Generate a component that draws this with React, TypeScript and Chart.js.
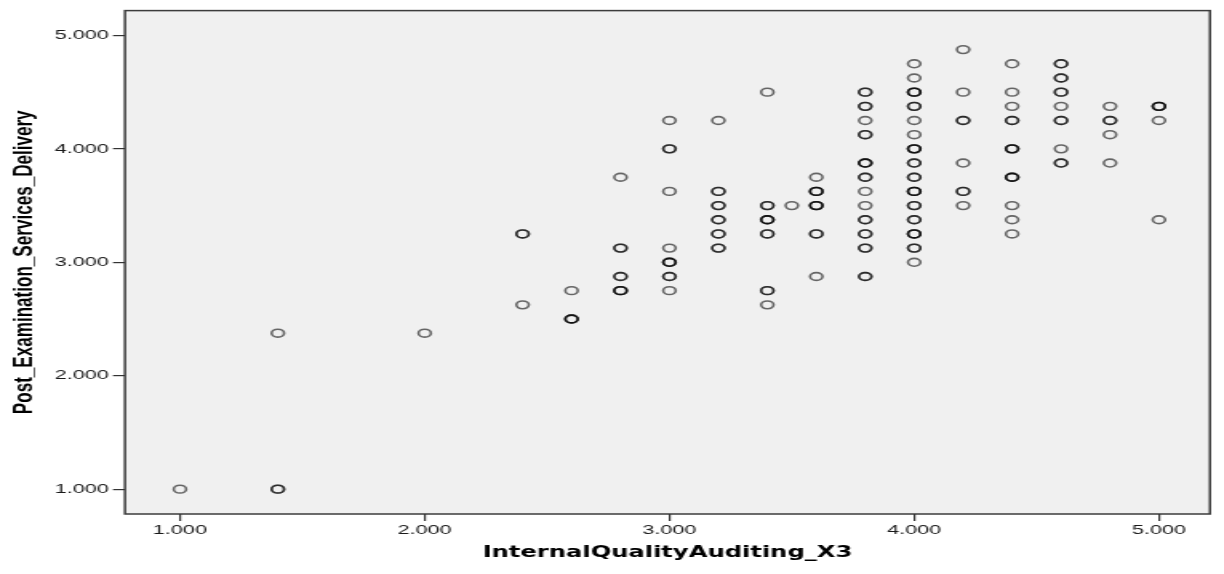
import React, { useEffect, useRef } from "react";
import { Chart, registerables } from "chart.js";

Chart.register(...registerables);

// Scores on the x axis (one column of observations per level)
const auditLevels = [1.0, 1.4, 2.0, 2.4, 2.6, 2.8, 3.0, 3.2, 3.4, 3.5, 3.6, 3.8, 4.0, 4.2, 4.4, 4.6, 4.8, 5.0];

// Delivery scores observed at each audit level
const deliveryByLevel = [
  [1.0],
  [2.375, 1.0],
  [2.375],
  [3.25, 2.625],
  [2.75, 2.5],
  [3.75, 3.125, 2.875, 2.75],
  [4.25, 4.0, 3.625, 3.125, 3.0, 2.875, 2.75],
  [4.25, 3.625, 3.5, 3.375, 3.25, 3.125],
  [4.5, 3.5, 3.375, 3.25, 2.75, 2.625],
  [3.5],
  [3.75, 3.625, 3.5, 3.25, 2.875],
  [4.5, 4.375, 4.25, 4.125, 3.875, 3.75, 3.625, 3.5, 3.375, 3.25, 3.125, 2.875],
  [4.75, 4.625, 4.5, 4.375, 4.25, 4.125, 4.0, 3.875, 3.75, 3.625, 3.5, 3.375, 3.25, 3.125, 3.0],
  [4.875, 4.5, 4.25, 3.875, 3.625, 3.5],
  [4.75, 4.5, 4.375, 4.25, 4.0, 3.75, 3.5, 3.375, 3.25],
  [4.75, 4.625, 4.5, 4.375, 4.25, 4.0, 3.875],
  [4.375, 4.25, 4.125, 3.875],
  [4.375, 4.25, 3.375],
];

// Number of respondents sharing each (audit, delivery) pair
const casesByLevel = [
  [1],
  [1, 2],
  [1],
  [2, 1],
  [1, 3],
  [1, 2, 2, 3],
  [1, 2, 1, 1, 3, 2, 1],
  [1, 2, 2, 2, 2, 2],
  [1, 2, 3, 2, 2, 1],
  [1],
  [1, 3, 3, 2, 1],
  [2, 2, 1, 2, 3, 2, 1, 1, 2, 2, 2, 2],
  [1, 1, 3, 2, 1, 1, 3, 2, 2, 3, 2, 2, 3, 2, 1],
  [1, 1, 2, 1, 2, 1],
  [1, 1, 1, 2, 3, 3, 1, 1, 1],
  [2, 2, 2, 1, 2, 1, 2],
  [1, 2, 1, 1],
  [3, 1, 1],
];

const xTickValues = [1, 2, 3, 4, 5];
const yTickValues = [1, 2, 3, 4, 5];
const xAxisTitle = "InternalQualityAuditing_X3";
const yAxisTitle = "Post_Examination_Services_Delivery";

const PAGE_W = 1224;
const PAGE_H = 574;
// The plot is rendered on a narrower canvas and widened on screen.
const STRETCH = 1.6;
const CANVAS_W = Math.round(PAGE_W / STRETCH);

function fitFontSize(text: string, family: string, weight: string, target: number) {
  const ctx = document.createElement("canvas").getContext("2d")!;
  ctx.font = `${weight} 20px ${family}`;
  const w = ctx.measureText(text).width || 1;
  return (20 * target) / w;
}

const plotFrame = {
  id: "plotFrame",
  beforeDraw(chart: any) {
    const { ctx, chartArea } = chart;
    const { left, top, right, bottom } = chartArea;
    ctx.save();
    ctx.fillStyle = "#ffffff";
    ctx.fillRect(0, 0, chart.width, chart.height);
    ctx.fillStyle = "#f0f0f0";
    ctx.fillRect(left, top, right - left, bottom - top);
    ctx.strokeStyle = "#3c3c3c";
    ctx.lineWidth = 1.5;
    ctx.strokeRect(left, top, right - left, bottom - top);
    ctx.restore();
  },
};

export default function App() {
  const canvasRef = useRef<HTMLCanvasElement | null>(null);

  useEffect(() => {
    const canvas = canvasRef.current;
    if (!canvas) return;

    const points: { x: number; y: number }[] = [];
    auditLevels.forEach((x, i) => {
      deliveryByLevel[i].forEach((y, j) => {
        const n = casesByLevel[i][j];
        for (let k = 0; k < n; k++) points.push({ x, y });
      });
    });

    const yTitleFamily = '"Liberation Sans Narrow", "Liberation Sans", Arial, sans-serif';
    const yTitleSize = fitFontSize(yAxisTitle, yTitleFamily, "bold", 304);
    const xTitleFamily = '"DejaVu Sans", Verdana, sans-serif';
    const xTitleSize = fitFontSize(xAxisTitle, xTitleFamily, "bold", 370 / STRETCH);
    const tickFont = { family: '"Liberation Sans", Arial, sans-serif', size: 13.5 };

    const chart = new Chart(canvas, {
      type: "scatter",
      data: {
        datasets: [
          {
            data: points,
            pointStyle: "circle",
            pointRadius: 3.9,
            pointHoverRadius: 3.9,
            pointBorderWidth: 1.6,
            borderColor: "rgba(0,0,0,0.58)",
            backgroundColor: "rgba(0,0,0,0)",
            showLine: false,
          },
        ],
      },
      options: {
        responsive: false,
        devicePixelRatio: 1,
        animation: false,
        events: [],
        layout: { padding: { top: 8, right: CANVAS_W - 1210 / STRETCH, bottom: 0, left: 0 } },
        plugins: {
          legend: { display: false },
          tooltip: { enabled: false },
        },
        scales: {
          x: {
            type: "linear",
            min: 0.7753,
            max: 5.2084,
            afterBuildTicks: (axis: any) => {
              axis.ticks = xTickValues.map((v) => ({ value: v }));
            },
            afterFit: (axis: any) => {
              axis.height = PAGE_H - 514;
            },
            border: { display: false },
            grid: {
              drawOnChartArea: false,
              drawTicks: true,
              tickLength: 7,
              color: "#333333",
              lineWidth: 1.2,
            },
            ticks: {
              autoSkip: false,
              maxRotation: 0,
              padding: 1,
              color: "#1a1a1a",
              font: tickFont,
              callback: (v: any) => Number(v).toFixed(3),
            },
            title: {
              display: true,
              text: xAxisTitle,
              color: "#000000",
              font: { family: xTitleFamily, size: xTitleSize, weight: "bold", lineHeight: 1 },
              padding: { top: 0, bottom: 21 - xTitleSize / 2 },
            },
          },
          y: {
            type: "linear",
            min: 0.781,
            max: 5.219,
            afterBuildTicks: (axis: any) => {
              axis.ticks = yTickValues.map((v) => ({ value: v }));
            },
            afterFit: (axis: any) => {
              axis.width = 125 / STRETCH;
            },
            border: { display: false },
            grid: {
              drawOnChartArea: false,
              drawTicks: true,
              tickLength: 7.5,
              color: "#333333",
              lineWidth: 1.2,
            },
            ticks: {
              autoSkip: false,
              padding: 2.5,
              color: "#1a1a1a",
              font: tickFont,
              callback: (v: any) => Number(v).toFixed(3),
            },
            title: {
              display: true,
              text: yAxisTitle,
              color: "#000000",
              font: { family: yTitleFamily, size: yTitleSize, weight: "bold", lineHeight: 1 },
              padding: { top: 25 / STRETCH - yTitleSize / 2, bottom: 0 },
            },
          },
        },
      },
      plugins: [plotFrame],
    } as any);

    return () => chart.destroy();
  }, []);

  return (
    <div
      style={{
        position: "fixed",
        left: 0,
        top: 0,
        width: PAGE_W,
        height: PAGE_H,
        background: "#ffffff",
        overflow: "hidden",
      }}
    >
      <canvas
        ref={canvasRef}
        width={CANVAS_W}
        height={PAGE_H}
        style={{ display: "block", width: `${PAGE_W}px`, height: `${PAGE_H}px` }}
      />
    </div>
  );
}
